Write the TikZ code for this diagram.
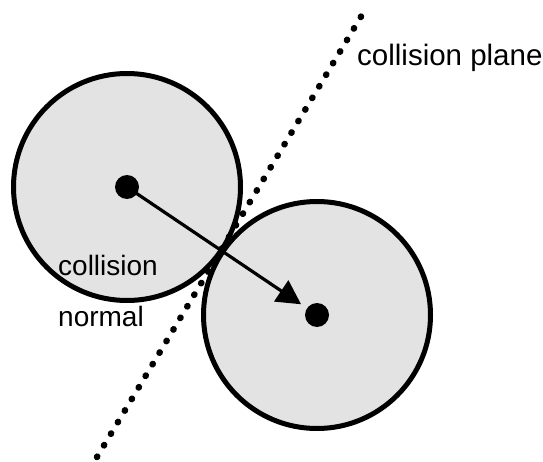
\documentclass[tikz,border=0pt]{standalone}
\usepackage{fontspec}
\setmainfont{Liberation Sans}
\usetikzlibrary{arrows.meta}
\begin{document}
\begin{tikzpicture}[x=1pt,y=-1pt,
  ball/.style={circle,draw=black,line width=5pt,fill=black!11,minimum size=227pt,inner sep=0pt},
  dotc/.style={circle,fill=black,minimum size=24pt,inner sep=0pt},
  plane/.style={line width=6.5pt,line cap=round,dash pattern=on 0.5pt off 13pt},
  normalarrow/.style={line width=3.2pt,-{Triangle[length=24pt,width=25pt]}},
  lbl/.style={font=\fontsize{28}{30}\selectfont,inner sep=0pt}]
\useasboundingbox[fill=white] (0,0) rectangle (543,462);
\node[ball] (c1) at (127,187) {};
\node[ball] (c2) at (317,315) {};
\coordinate (p1) at (97,457);
\coordinate (p2) at (362,15);
\draw[plane] (p1) -- (p2);
\node[dotc] (d1) at (127,187) {};
\node[dotc] (d2) at (317,315) {};
\draw[normalarrow,shorten >=7pt] (d1.center) -- (d2);
\node[lbl,anchor=base west,font=\fontsize{29.5}{31}\selectfont] (tp) at (357,66) {collision plane};
\node[lbl,anchor=base west] (tc) at (58,275) {collision};
\node[lbl,anchor=base west] (tn) at (58,326) {normal};
\end{tikzpicture}
\end{document}
